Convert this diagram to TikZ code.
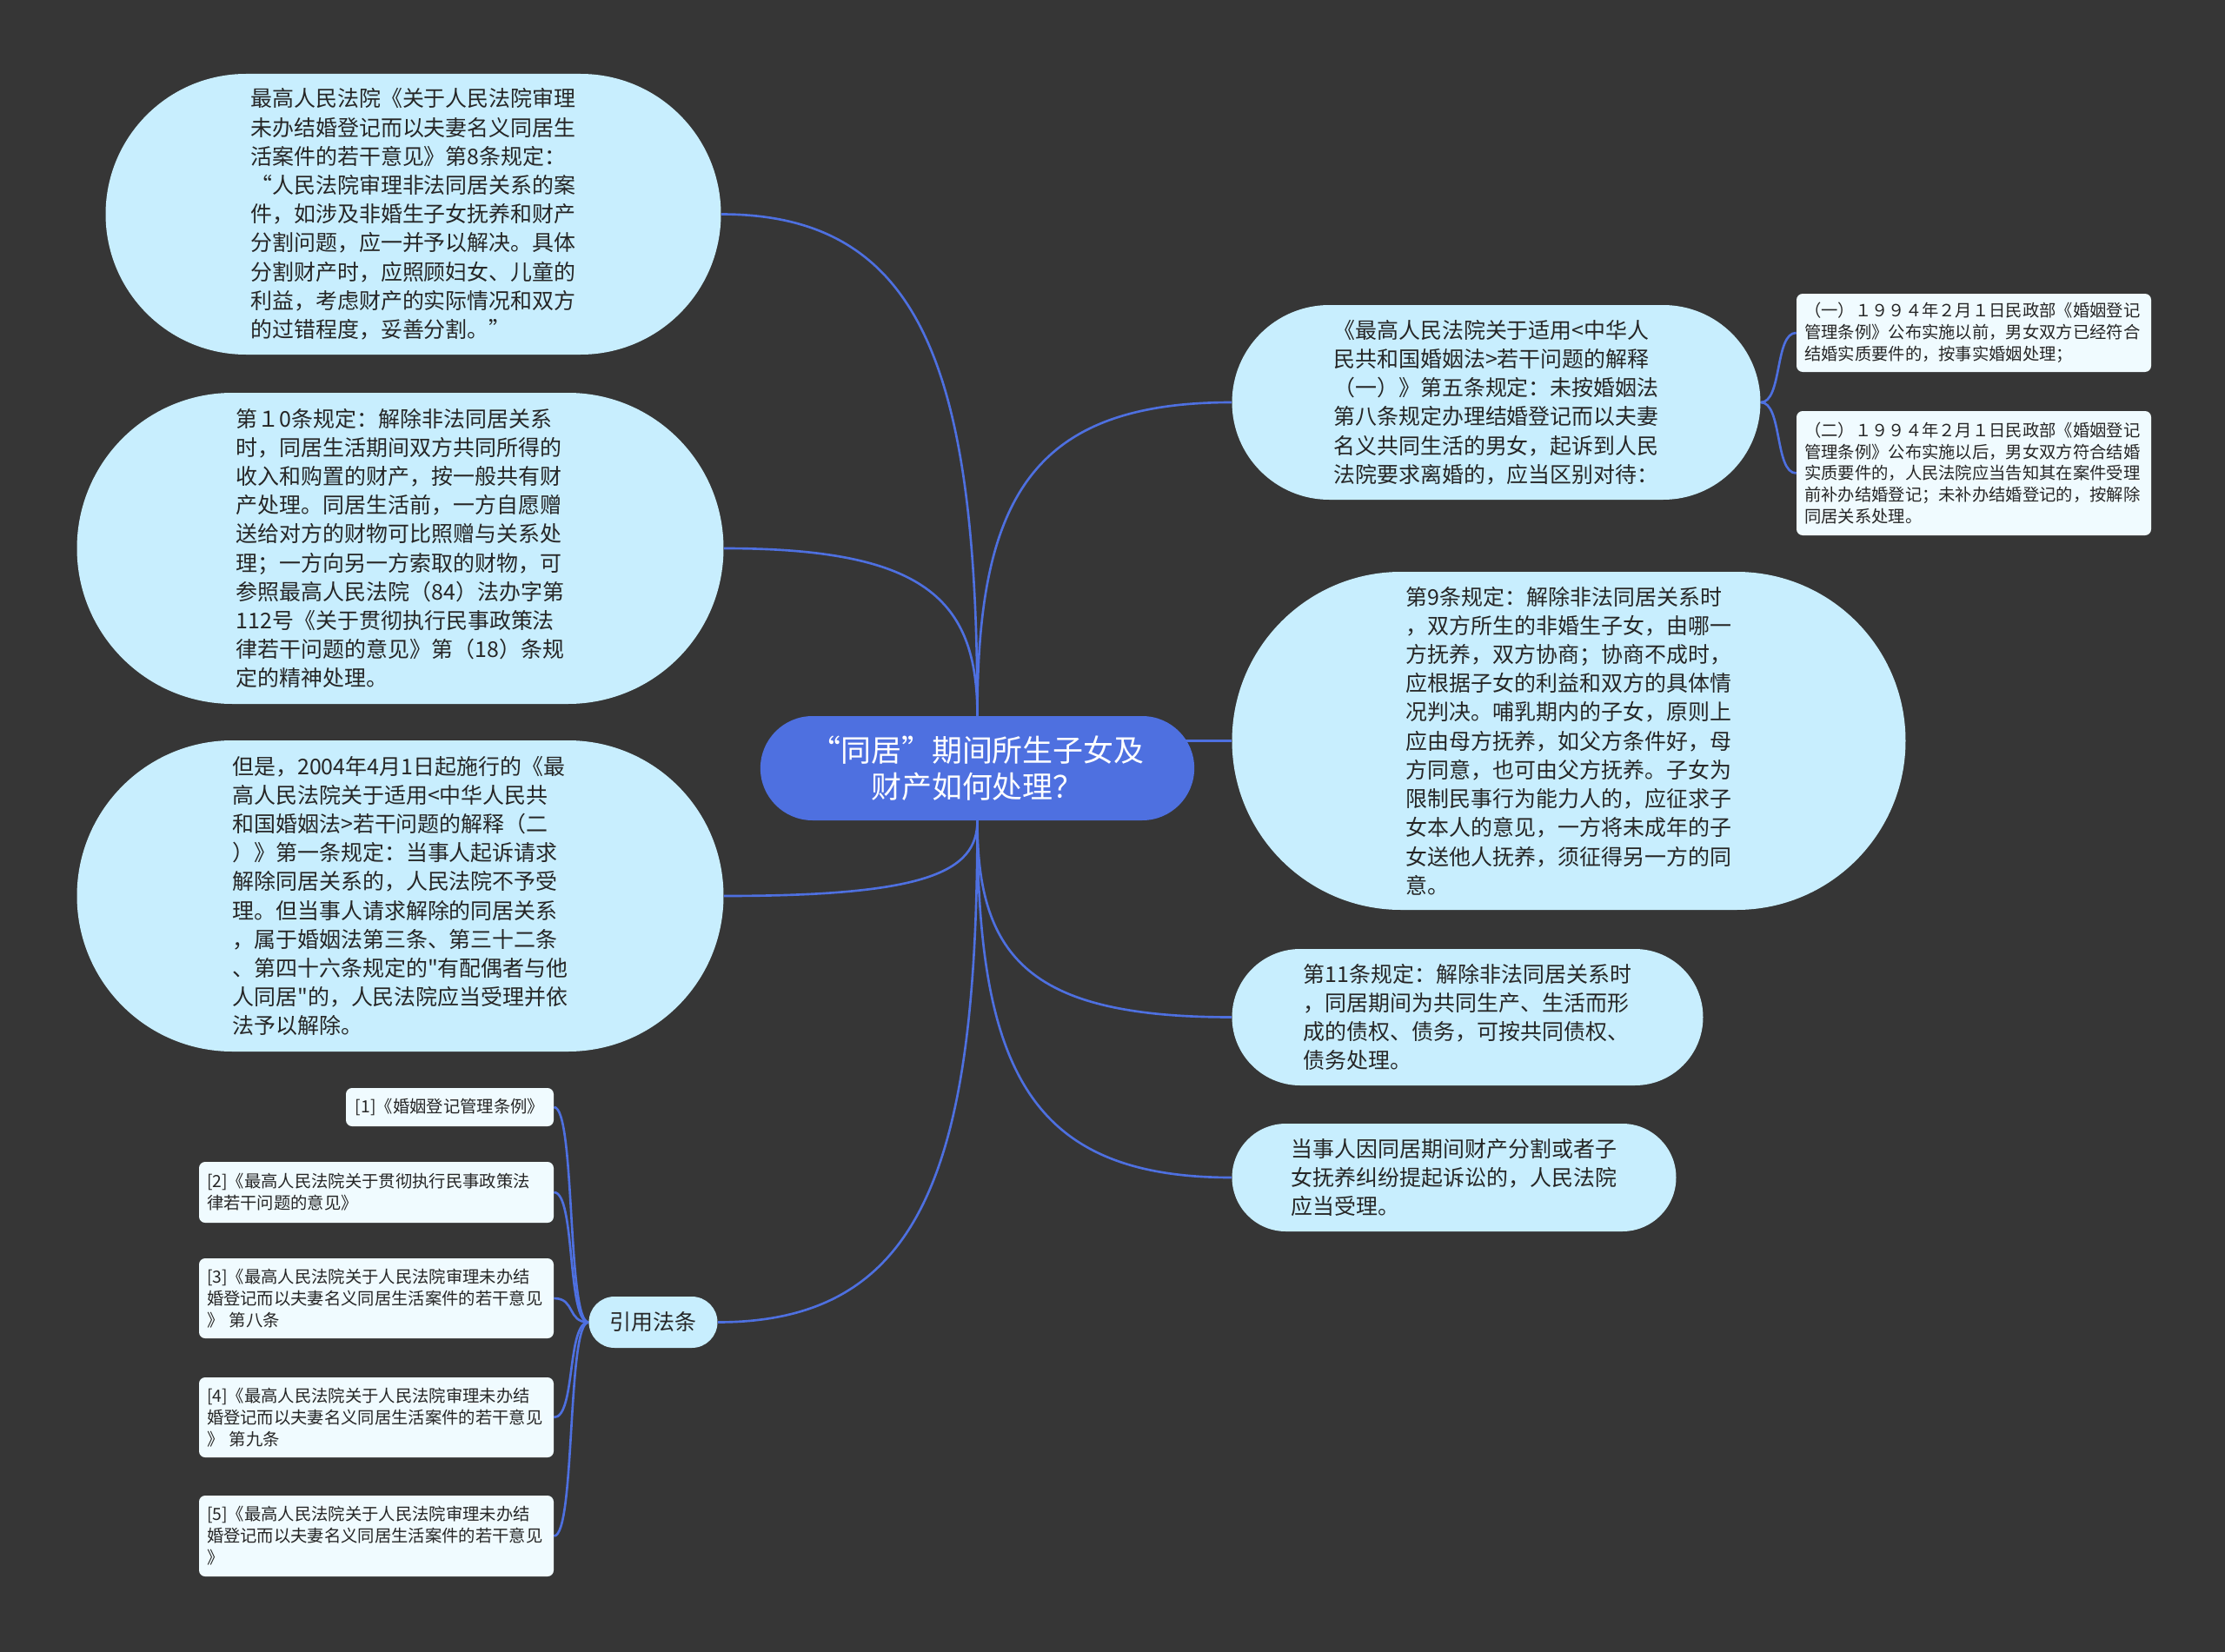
\documentclass[tikz,border=0pt]{standalone}
\usepackage{fontspec}
\setmainfont{Noto Sans CJK SC}[Ligatures=TeXOff]
\usepackage{tikz}
\usetikzlibrary{shapes.misc,backgrounds}
\definecolor{canvasgray}{RGB}{54,54,54}
\definecolor{rootblue}{RGB}{78,112,224}
\definecolor{topicblue}{RGB}{200,238,254}
\definecolor{leafwhite}{RGB}{240,251,255}
\definecolor{inkgray}{RGB}{38,38,38}

\begin{document}
\begin{tikzpicture}[
  every node/.style={text=inkgray},
  body/.style    = {font=\fontsize{14.2}{18.9}\selectfont},
  note/.style    = {font=\fontsize{11}{14.2}\selectfont},
  topic/.style   = {rounded rectangle, fill=topicblue, body, align=left, inner sep=2pt},
  rootnd/.style  = {rounded rectangle, fill=rootblue, text=white, align=center,
                    font=\fontsize{19.9}{24.1}\selectfont,
                    minimum width=10.22cm, minimum height=2.40cm},
  leaf/.style    = {fill=leafwhite, rounded corners=4pt, note, align=left, inner sep=0.18cm},
  wideleaf/.style= {leaf, text width=7.8cm, minimum width=8.16cm},
  link/.style    = {draw=rootblue, line width=1.5pt}
]
\useasboundingbox (0,0) rectangle (51.2,-38.02);

% root
\node[rootnd] (root) at (22.49,-17.68) {“同居”期间所生子女及\\财产如何处理？};

% left topics
\node[topic, minimum width=14.30cm, minimum height=6.46cm] (court8) at (9.51,-4.93)
  {最高人民法院《关于人民法院审理\\未办结婚登记而以夫妻名义同居生\\活案件的若干意见》第8条规定：\\“人民法院审理非法同居关系的案\\件，如涉及非婚生子女抚养和财产\\分割问题，应一并予以解决。具体\\分割财产时，应照顾妇女、儿童的\\利益，考虑财产的实际情况和双方\\的过错程度，妥善分割。”};
\node[topic, minimum width=15.02cm, minimum height=7.16cm] (art10) at (9.21,-12.62)
  {第１0条规定：解除非法同居关系\\时，同居生活期间双方共同所得的\\收入和购置的财产，按一般共有财\\产处理。同居生活前，一方自愿赠\\送给对方的财物可比照赠与关系处\\理；一方向另一方索取的财物，可\\参照最高人民法院（84）法办字第\\112号《关于贯彻执行民事政策法\\律若干问题的意见》第（18）条规\\定的精神处理。};
\node[topic, minimum width=15.02cm, minimum height=7.16cm] (interp2) at (9.21,-20.62)
  {但是，2004年4月1日起施行的《最\\高人民法院关于适用<中华人民共\\和国婚姻法>若干问题的解释（二\\）》第一条规定：当事人起诉请求\\解除同居关系的，人民法院不予受\\理。但当事人请求解除的同居关系\\，属于婚姻法第三条、第三十二条\\、第四十六条规定的"有配偶者与他\\人同居"的，人民法院应当受理并依\\法予以解除。};
\node[topic, align=center, minimum width=3.10cm, minimum height=1.18cm] (cite) at (15.03,-30.43) {引用法条};

% citations
\node[leaf, align=center, minimum width=4.78cm, minimum height=0.88cm] (ref1) at (10.35,-25.48)
  {[1]《婚姻登记管理条例》};
\node[wideleaf, minimum height=1.40cm] (ref2) at (8.66,-27.44)
  {[2]《最高人民法院关于贯彻执行民事政策法\\律若干问题的意见》};
\node[wideleaf, minimum height=1.84cm] (ref3) at (8.66,-29.88)
  {[3]《最高人民法院关于人民法院审理未办结\\婚登记而以夫妻名义同居生活案件的若干意见\\》 第八条};
\node[wideleaf, minimum height=1.84cm] (ref4) at (8.66,-32.62)
  {[4]《最高人民法院关于人民法院审理未办结\\婚登记而以夫妻名义同居生活案件的若干意见\\》 第九条};
\node[wideleaf, minimum height=1.86cm] (ref5) at (8.66,-35.35)
  {[5]《最高人民法院关于人民法院审理未办结\\婚登记而以夫妻名义同居生活案件的若干意见\\》};

% right topics
\node[topic, minimum width=12.30cm, minimum height=4.48cm] (interp1) at (34.43,-9.26)
  {《最高人民法院关于适用<中华人\\民共和国婚姻法>若干问题的解释\\（一）》第五条规定：未按婚姻法\\第八条规定办理结婚登记而以夫妻\\名义共同生活的男女，起诉到人民\\法院要求离婚的，应当区别对待：};
\node[wideleaf, minimum height=1.80cm] (before94) at (45.42,-7.66)
  {（一）１９９４年２月１日民政部《婚姻登记\\管理条例》公布实施以前，男女双方已经符合\\结婚实质要件的，按事实婚姻处理；};
\node[wideleaf, minimum height=2.86cm] (after94) at (45.42,-10.89)
  {（二）１９９４年２月１日民政部《婚姻登记\\管理条例》公布实施以后，男女双方符合结婚\\实质要件的，人民法院应当告知其在案件受理\\前补办结婚登记；未补办结婚登记的，按解除\\同居关系处理。};
\node[topic, minimum width=15.64cm, minimum height=7.78cm] (art9) at (36.10,-17.05)
  {第9条规定：解除非法同居关系时\\，双方所生的非婚生子女，由哪一\\方抚养，双方协商；协商不成时，\\应根据子女的利益和双方的具体情\\况判决。哺乳期内的子女，原则上\\应由母方抚养，如父方条件好，母\\方同意，也可由父方抚养。子女为\\限制民事行为能力人的，应征求子\\女本人的意见，一方将未成年的子\\女送他人抚养，须征得另一方的同\\意。};
\node[topic, minimum width=10.98cm, minimum height=3.14cm] (art11) at (33.77,-23.41)
  {第11条规定：解除非法同居关系时\\，同居期间为共同生产、生活而形\\成的债权、债务，可按共同债权、\\债务处理。};
\node[topic, minimum width=10.36cm, minimum height=2.48cm] (suit) at (33.46,-27.10)
  {当事人因同居期间财产分割或者子\\女抚养纠纷提起诉讼的，人民法院\\应当受理。};

\begin{scope}[on background layer]
\fill[canvasgray] (0,0) rectangle (51.2,-38.02);
% branches of the root
\draw[link] (root.north) .. controls +(0,8.0) and +(4.6,0) .. (court8.east);
\draw[link] (root.north) .. controls +(0,2.7) and +(4.6,0) .. (art10.east);
\draw[link] (root.south) .. controls +(0,-1.2) and +(4.6,0) .. (interp2.east);
\draw[link] (root.south) .. controls +(0,-8.0) and +(4.7,0) .. (cite.east);
\draw[link] (root.north) .. controls +(0,5.0) and +(-4.6,0) .. (interp1.west);
\draw[link] (root.center |- art9.west) -- (art9.west);
\draw[link] (root.south) .. controls +(0,-3.2) and +(-4.6,0) .. (art11.west);
\draw[link] (root.south) .. controls +(0,-5.8) and +(-4.6,0) .. (suit.west);
% sub branches
\draw[link] (interp1.east) .. controls +(0.5,0) and +(-0.5,0) .. (before94.west);
\draw[link] (interp1.east) .. controls +(0.5,0) and +(-0.5,0) .. (after94.west);
\foreach \r in {ref1,ref2,ref3,ref4,ref5}
  \draw[link] (cite.west) .. controls +(-0.5,0) and +(0.5,0) .. (\r.east);
\end{scope}
\end{tikzpicture}
\end{document}
